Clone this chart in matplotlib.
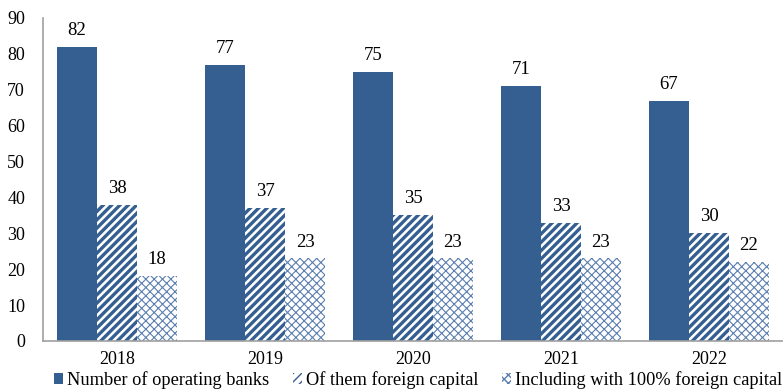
import matplotlib
matplotlib.use("Agg")
import matplotlib.pyplot as plt
import numpy as np
from matplotlib.patches import Patch

years = ["2018", "2019", "2020", "2021", "2022"]
operating = [82, 77, 75, 71, 67]
foreign = [38, 37, 35, 33, 30]
full_foreign = [18, 23, 23, 23, 22]
series_labels = ["Number of operating banks", "Of them foreign capital",
                 "Including with 100% foreign capital"]

plt.rcParams['font.family'] = ['Liberation Serif', 'DejaVu Serif']

blue = '#355F91'
light = '#5A7FAF'
fig = plt.figure(figsize=(7.83, 3.91), dpi=100)
ax = fig.add_axes([0.055, 0.128, 0.945, 0.826])

x = np.arange(len(years))
w = 0.27
b1 = ax.bar(x - w, operating, w, color=blue, linewidth=0)
b2 = ax.bar(x, foreign, w, facecolor='white', edgecolor=blue, hatch='////', linewidth=0)
b3 = ax.bar(x + w, full_foreign, w, facecolor='white', edgecolor=light, hatch='xxxx', linewidth=0)
for b in b3:
    b.set_hatch_linewidth(0.8)
for b in b2:
    b.set_hatch_linewidth(2.4)

for bars, vals in [(b1, operating), (b2, foreign), (b3, full_foreign)]:
    for r, v in zip(bars, vals):
        ax.text(r.get_x() + r.get_width() / 2, v + 2.2, str(v), ha='center', va='bottom', fontsize=13.5)

ax.set_xlim(-0.5, len(years) - 0.5)
ax.set_ylim(0, 90)
ax.set_yticks(range(0, 91, 10))
ax.set_xticks(x)
ax.set_xticklabels(years)
ax.tick_params(axis='both', length=0, labelsize=13)
ax.tick_params(axis='y', pad=13)
ax.tick_params(axis='x', pad=7)
for s in ['top', 'right']:
    ax.spines[s].set_visible(False)
for s in ['left', 'bottom']:
    ax.spines[s].set_color('#A0A0A0')
    ax.spines[s].set_linewidth(1.2)

h2 = Patch(facecolor='white', edgecolor=blue, hatch='////', linewidth=0)
h2.set_hatch_linewidth(2.0)
h3 = Patch(facecolor='white', edgecolor=light, hatch='xxxx', linewidth=0)
h3.set_hatch_linewidth(0.8)
handles = [Patch(facecolor=blue, linewidth=0), h2, h3]
fig.legend(handles, series_labels, loc='center', bbox_to_anchor=(0.534, 0.028), ncol=3,
           frameon=False, fontsize=13.2, handlelength=0.5, handleheight=0.5,
           handletextpad=0.2, columnspacing=1.3, borderpad=0, borderaxespad=0)

fig.savefig("out.png", dpi=100)
